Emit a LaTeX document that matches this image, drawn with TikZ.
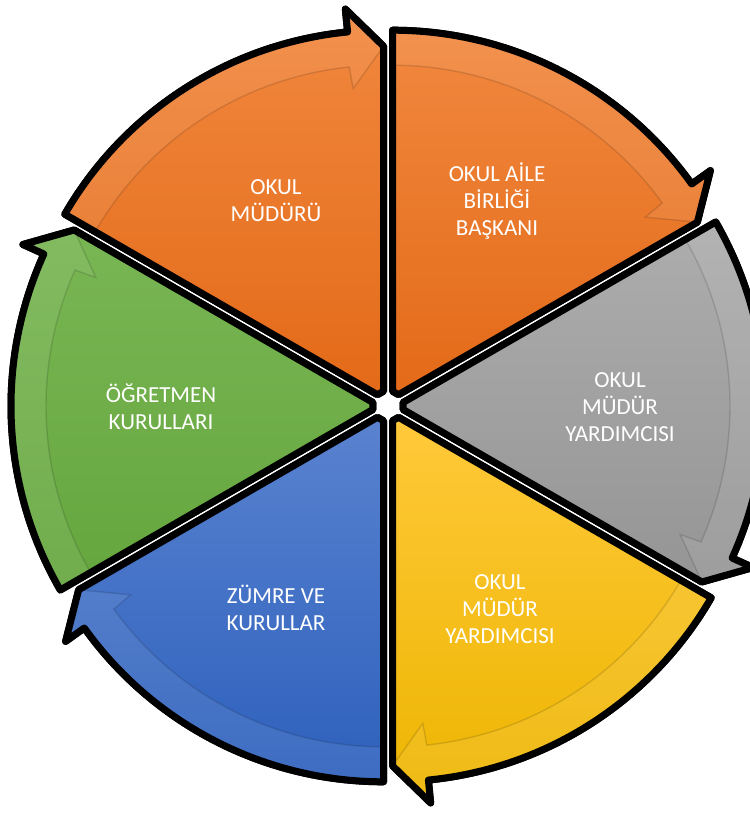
\documentclass[tikz,border=0pt]{standalone}
\usepackage{fontspec}
\setmainfont{Carlito}
\usetikzlibrary{calc}
\definecolor{orT}{HTML}{F1883F}
\definecolor{orB}{HTML}{E36A18}
\definecolor{grT}{HTML}{ADADAD}
\definecolor{grB}{HTML}{959595}
\definecolor{yeT}{HTML}{FFC93A}
\definecolor{yeB}{HTML}{EDB500}
\definecolor{blT}{HTML}{5A83D0}
\definecolor{blB}{HTML}{2D60BC}
\definecolor{gnT}{HTML}{79B654}
\definecolor{gnB}{HTML}{65A63E}
\tikzset{
  lbl/.style={text=white, font=\fontsize{23}{27}\selectfont, inner sep=0pt, anchor=base},
  rim/.style={draw=black, line width=7pt, line join=round},
  shadowrim/.style={draw=black, fill=black, line width=7pt, line join=round, shift={(0.5,-3)}},
  band/.style={fill=white, fill opacity=0.08},
  bandedge/.style={draw=black, draw opacity=0.13, line width=1.4pt}
}
\begin{document}
\begin{tikzpicture}[x=1pt,y=1pt]
\useasboundingbox (0,0) rectangle (749,-818);
\coordinate (C) at (388,-406);
% soft shadows under the rims
\foreach \s in {150,90,30,-30,-90,210}{
  \pgfmathsetmacro\e{\s-60}
  \pgfmathsetmacro\b{\e+5.6}
  \pgfmathsetmacro\m{\s-30}
  \coordinate (A) at ($(C)+(\m:9pt)$);
  \path[shadowrim] ($(A)+(\s:7pt)$) -- ($(A)+(\s:368pt)$) arc[start angle=\s, end angle=\b, radius=368pt] -- ($(A)+(\b:391pt)$) -- ($(A)+(\e:352pt)$) -- ($(A)+(\e:7pt)$) -- cycle;
}
\foreach \s/\ct/\cb in {150/orT/orB, 90/orT/orB, 30/grT/grB, -30/yeT/yeB, -90/blT/blB, 210/gnT/gnB}{
  \pgfmathsetmacro\e{\s-60}
  \pgfmathsetmacro\b{\e+5.6}
  \pgfmathsetmacro\bb{\e+5.9}
  \pgfmathsetmacro\m{\s-30}
  \coordinate (A) at ($(C)+(\m:9pt)$);
  \coordinate (P0) at ($(A)+(\s:7pt)$);
  \coordinate (P1) at ($(A)+(\s:368pt)$);
  \coordinate (P2) at ($(A)+(\b:391pt)$);
  \coordinate (P3) at ($(A)+(\e:352pt)$);
  \coordinate (P4) at ($(A)+(\e:7pt)$);
  \coordinate (Q0) at ($(A)+(\s:333pt)$);
  \coordinate (Q1) at ($(A)+(\b:311pt)$);
  \coordinate (Q2) at ($(A)+(\bb:333pt)$);
  \path[top color=\ct, bottom color=\cb] (P0) -- (P1) arc[start angle=\s, end angle=\b, radius=368pt] -- (P2) -- (P3) -- (P4) -- cycle;
  \path[band] (Q0) -- (P1) arc[start angle=\s, end angle=\b, radius=368pt] -- (P2) -- (P3) -- (Q1) -- (Q2) arc[start angle=\bb, end angle=\s, radius=333pt] -- cycle;
  \path[bandedge] (Q0) arc[start angle=\s, end angle=\bb, radius=333pt] -- (Q1) -- (P3);
  \path[rim] (P0) -- (P1) arc[start angle=\s, end angle=\b, radius=368pt] -- (P2) -- (P3) -- (P4) -- cycle;
}
\node[lbl] (t1) at (276,-195) {\begin{tabular}[t]{@{}c@{}}OKUL\\MÜDÜRÜ\end{tabular}};
\node[lbl] (t2) at (497,-182) {\begin{tabular}[t]{@{}c@{}}OKUL AİLE\\BİRLİĞİ\\BAŞKANI\end{tabular}};
\node[lbl] (t3) at (620,-387) {\begin{tabular}[t]{@{}c@{}}OKUL\\MÜDÜR\\YARDIMCISI\end{tabular}};
\node[lbl] (t4) at (500,-589) {\begin{tabular}[t]{@{}c@{}}OKUL\\MÜDÜR\\YARDIMCISI\end{tabular}};
\node[lbl] (t5) at (276,-603) {\begin{tabular}[t]{@{}c@{}}ZÜMRE VE\\KURULLAR\end{tabular}};
\node[lbl] (t6) at (161,-402) {\begin{tabular}[t]{@{}c@{}}ÖĞRETMEN\\KURULLARI\end{tabular}};
\end{tikzpicture}
\end{document}
